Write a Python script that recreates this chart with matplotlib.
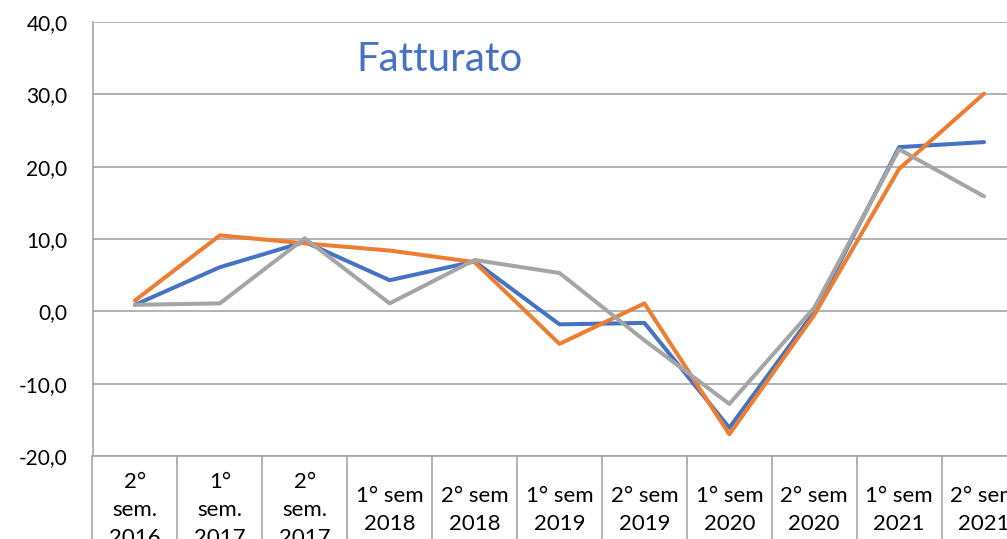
import matplotlib
matplotlib.use("Agg")
import matplotlib.pyplot as plt
import numpy as np

# ---------------------------------------------------------------------------
# Data
# ---------------------------------------------------------------------------
categories = [
    "2°\nsem.\n2016", "1°\nsem.\n2017", "2°\nsem.\n2017",
    "1° sem\n2018", "2° sem\n2018", "1° sem\n2019", "2° sem\n2019",
    "1° sem\n2020", "2° sem\n2020", "1° sem\n2021", "2° sem\n2021",
]
serie_blu = [0.9, 6.1, 9.6, 4.3, 6.9, -1.8, -1.6, -16.1, -0.1, 22.7, 23.4]
serie_arancio = [1.5, 10.5, 9.4, 8.4, 6.8, -4.5, 1.1, -17.0, -0.5, 19.7, 30.1]
serie_grigio = [0.9, 1.1, 10.1, 1.1, 7.1, 5.3, -4.0, -12.8, 0.5, 22.4, 15.9]
y_ticks = [-20, -10, 0, 10, 20, 30, 40]

BLUE = "#4472C4"
ORANGE = "#ED7D31"
GREY = "#A5A5A5"
GRID = "#A6A6A6"

plt.rcParams["font.family"] = ["Lato", "DejaVu Sans"]

W, H = 1007, 539
fig = plt.figure(figsize=(W / 100, H / 100), dpi=100)
# plot area: x 92.5 -> 1026.5 px (runs past the right edge), y 22 -> 456 px
ax = fig.add_axes([92.5 / W, 1 - 456 / H, 934 / W, 434 / H])

x = np.arange(len(categories))
for vals, col in [(serie_blu, BLUE), (serie_arancio, ORANGE), (serie_grigio, GREY)]:
    ax.plot(x, vals, color=col, lw=2.9, solid_joinstyle="round",
            solid_capstyle="round", zorder=3)

ax.set_xlim(-0.5, len(categories) - 0.5)
ax.set_ylim(-20, 40)

# horizontal gridlines
ax.set_yticks(y_ticks)
ax.set_yticklabels([f"{v:.1f}".replace(".", ",") for v in y_ticks], fontsize=15)
ax.yaxis.grid(True, color=GRID, lw=1.2)
ax.tick_params(axis="y", length=0, pad=18)

for s in ["top", "right"]:
    ax.spines[s].set_visible(False)
ax.spines["left"].set_color(GRID)
ax.spines["left"].set_linewidth(1.2)
ax.spines["bottom"].set_color(GRID)
ax.spines["bottom"].set_linewidth(1.2)

# category boxes: long outward ticks at boundaries, labels at centres
ax.set_xticks(np.arange(len(categories) + 1) - 0.5)
ax.set_xticklabels([])
ax.tick_params(axis="x", which="major", direction="out", length=75,
               width=1.2, color=GRID)
ax.set_xticks(x, minor=True)
ax.set_xticklabels(categories, minor=True, fontsize=16, linespacing=1.5)
ax.tick_params(axis="x", which="minor", length=0, pad=39)
for lbl in ax.get_xticklabels(minor=True):
    lbl.set_verticalalignment("center")

ax.set_axisbelow(True)

fig.text(440 / W, 1 - 70.7 / H, "Fatturato", color=BLUE, fontsize=29,
         ha="center", va="baseline")

fig.savefig("out.png", dpi=100)
